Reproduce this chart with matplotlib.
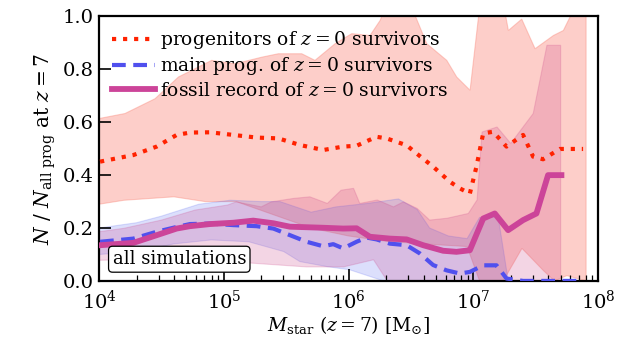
import numpy as np
import matplotlib
matplotlib.use("Agg")
import matplotlib.pyplot as plt

plt.rcParams['font.family'] = ['DejaVu Serif']
plt.rcParams['mathtext.fontset'] = 'dejavuserif'

# ---- data (log10 stellar mass, fractions) ----
prog_logm = [4.008, 4.275, 4.462, 4.622, 4.729, 4.889, 5.076, 5.263, 5.437, 5.610,
             5.797, 5.957, 6.064, 6.224, 6.304, 6.465, 6.545, 6.678, 6.812, 6.892,
             6.972, 7.025, 7.079, 7.159, 7.266, 7.399, 7.479, 7.559, 7.693, 7.880]
prog_frac = [0.451, 0.476, 0.508, 0.552, 0.561, 0.562, 0.552, 0.542, 0.539, 0.514,
             0.495, 0.508, 0.511, 0.545, 0.539, 0.513, 0.482, 0.432, 0.375, 0.350,
             0.330, 0.432, 0.558, 0.564, 0.508, 0.552, 0.470, 0.460, 0.499, 0.499]

main_logm = [4.008, 4.275, 4.462, 4.622, 4.729, 4.889, 5.076, 5.263, 5.397, 5.530,
             5.664, 5.797, 5.877, 5.957, 6.064, 6.144, 6.224, 6.331, 6.465, 6.571,
             6.678, 6.785, 6.892, 6.972, 7.079, 7.186, 7.266, 7.399, 7.880]
main_frac = [0.148, 0.160, 0.186, 0.204, 0.215, 0.217, 0.211, 0.207, 0.198, 0.173,
             0.148, 0.131, 0.139, 0.123, 0.148, 0.164, 0.157, 0.141, 0.135, 0.104,
             0.060, 0.040, 0.028, 0.034, 0.059, 0.059, 0.009, 0.0, 0.0]

foss_logm = [4.008, 4.275, 4.462, 4.622, 4.729, 4.889, 5.076, 5.236, 5.397, 5.530,
             5.797, 5.957, 6.064, 6.171, 6.331, 6.465, 6.598, 6.758, 6.865, 6.972,
             7.079, 7.172, 7.279, 7.399, 7.506, 7.599, 7.706]
foss_frac = [0.135, 0.144, 0.173, 0.198, 0.207, 0.215, 0.220, 0.228, 0.218, 0.205,
             0.201, 0.198, 0.199, 0.167, 0.160, 0.157, 0.135, 0.114, 0.110, 0.116,
             0.236, 0.255, 0.192, 0.230, 0.255, 0.400, 0.400]

# bands
prog_up_logm = [4.0, 4.208, 4.449, 4.636, 4.903, 5.090, 5.304, 5.437, 5.625, 5.731,
                5.892, 6.026, 6.172, 6.253, 6.306, 6.493, 6.627, 6.787, 6.867, 6.974,
                7.054, 7.241, 7.281, 7.388, 7.495, 7.642, 7.722, 7.829, 7.904]
prog_up = [0.614, 0.633, 0.689, 0.771, 0.834, 0.821, 0.846, 0.859, 0.859, 0.834,
           0.897, 0.935, 0.928, 0.985, 1.05, 1.05, 0.897, 0.834, 0.771, 0.721,
           1.05, 1.05, 0.947, 0.99, 0.878, 0.928, 0.947, 1.05, 1.05]
prog_lo_logm = [4.0, 4.2, 4.6, 4.85, 5.1, 5.4, 5.7, 6.0, 6.3, 6.6, 6.95, 7.05, 7.24,
                7.39, 7.56, 7.65, 7.75, 7.904]
prog_lo = [0.29, 0.305, 0.318, 0.30, 0.30, 0.25, 0.20, 0.17, 0.15, 0.14, 0.13, 0.0,
           0.0, 0.123, 0.04, 0.0, 0.02, 0.0]

main_up_logm = [4.0, 4.3, 4.5, 4.8, 5.05, 5.3, 5.45, 5.7, 5.9, 6.15, 6.4, 6.55, 6.65,
                6.8, 6.95, 7.05, 7.2, 7.28, 7.88]
main_up = [0.20, 0.22, 0.245, 0.29, 0.305, 0.30, 0.30, 0.26, 0.28, 0.293, 0.31, 0.27,
           0.20, 0.17, 0.16, 0.24, 0.24, 0.0, 0.0]
main_lo_logm = [4.0, 4.3, 4.6, 4.9, 5.2, 5.48, 5.61, 5.83, 6.01, 6.28, 7.88]
main_lo = [0.10, 0.11, 0.14, 0.155, 0.148, 0.111, 0.073, 0.054, 0.042, 0.0, 0.0]

foss_up_logm = [4.0, 4.2, 4.5, 4.77, 5.03, 5.1, 5.3, 5.38, 5.56, 5.69, 5.83, 5.94,
                6.04, 6.09, 6.23, 6.36, 6.44, 6.55, 6.65, 6.79, 6.96, 7.03, 7.07,
                7.19, 7.30, 7.48, 7.59, 7.70]
foss_up = [0.186, 0.199, 0.23, 0.268, 0.287, 0.299, 0.28, 0.299, 0.312, 0.318, 0.293,
           0.343, 0.35, 0.293, 0.306, 0.28, 0.299, 0.274, 0.23, 0.237, 0.255, 0.306,
           0.563, 0.582, 0.52, 0.633, 0.891, 0.891]
foss_lo_logm = [4.0, 4.7, 5.26, 5.66, 5.96, 6.2, 6.31, 7.70]
foss_lo = [0.078, 0.085, 0.066, 0.053, 0.053, 0.08, 0.0, 0.0]

xticks_exp = [4, 5, 6, 7, 8]
yticks = [0.0, 0.2, 0.4, 0.6, 0.8, 1.0]

c_prog = '#ff2200'
c_main = '#5050ee'
c_foss = '#cc4499'

fig = plt.figure(figsize=(6.23, 3.43), dpi=100)
ax = fig.add_axes([0.159, 0.181, 0.801, 0.771])

def tx(a):
    return 10 ** np.asarray(a, dtype=float)

def band(xu, yu, xl, yl, color, alpha):
    xs = np.concatenate([tx(xu), tx(xl)[::-1]])
    ys = np.concatenate([yu, yl[::-1]])
    ax.fill(xs, ys, facecolor=color, alpha=alpha, edgecolor=color, lw=0.8, zorder=1)

band(prog_up_logm, np.array(prog_up), prog_lo_logm, np.array(prog_lo), '#fa8072', 0.38)
band(main_up_logm, np.array(main_up), main_lo_logm, np.array(main_lo), '#5060f0', 0.2)
band(foss_up_logm, np.array(foss_up), foss_lo_logm, np.array(foss_lo), '#cc4488', 0.22)

ax.plot(tx(prog_logm), prog_frac, ls=':', color=c_prog, lw=3, zorder=3,
        label=r'progenitors of $z = 0$ survivors')
ax.plot(tx(main_logm), main_frac, ls=(0, (3.3, 1.8)), color=c_main, lw=3, zorder=3,
        label=r'main prog. of $z = 0$ survivors')
ax.plot(tx(foss_logm), foss_frac, ls='-', color=c_foss, lw=4.2, zorder=4,
        label=r'fossil record of $z = 0$ survivors')

ax.set_xscale('log')
ax.set_xlim(1e4, 1e8)
ax.set_ylim(0, 1)
ax.set_xticks([10.0 ** e for e in xticks_exp])
ax.set_xticklabels([r'$10^{%d}$' % e for e in xticks_exp])
ax.set_yticks(yticks)
ax.set_yticklabels(['%.1f' % v for v in yticks])

ax.tick_params(axis='both', which='major', direction='in', length=8.5, width=1.2,
               labelsize=14, top=False, right=False, pad=4)
ax.tick_params(axis='x', which='major', pad=6)
ax.tick_params(axis='x', which='minor', direction='in', length=4.5, width=0.9,
               top=False)
for s in ax.spines.values():
    s.set_linewidth(1.6)

ax.set_xlabel(r'$M_{\rm star}$ ($z = 7$) [M$_{\odot}$]', fontsize=13.5, labelpad=1)
ax.set_ylabel(r'$N$ / $N_{\rm all\ prog}$ at $z = 7$', fontsize=14.5, labelpad=3)

leg = ax.legend(loc='upper left', frameon=False, fontsize=13.5, handlelength=2.3,
                labelspacing=0.22, handletextpad=0.3, borderaxespad=0.0,
                bbox_to_anchor=(0.01, 0.98))

ax.text(0.027, 0.048, 'all simulations', transform=ax.transAxes, fontsize=13,
        ha='left', va='bottom', zorder=6,
        bbox=dict(boxstyle='round,pad=0.22', fc='white', ec='black', lw=0.9))

fig.savefig('out.png', dpi=100)
